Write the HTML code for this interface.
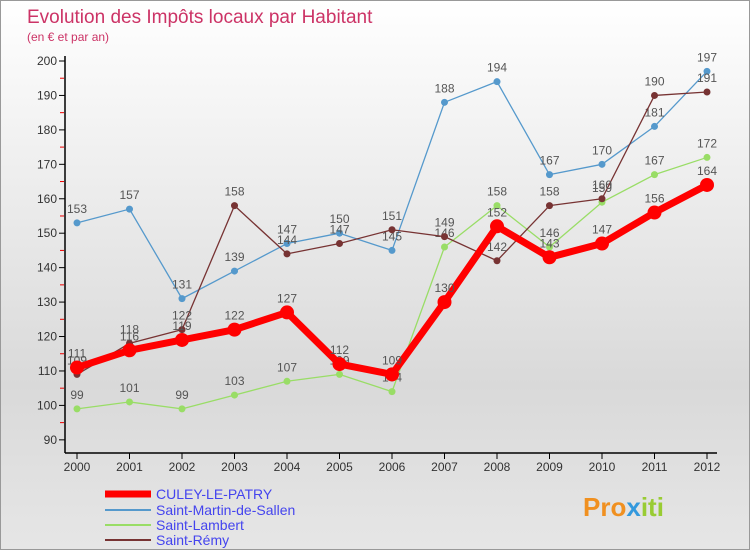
<!DOCTYPE html>
<html><head><meta charset="utf-8"><style>
body{margin:0;width:750px;height:550px;overflow:hidden;font-family:"Liberation Sans",sans-serif}
#c{position:absolute;left:0;top:0;width:748px;height:548px;border:1px solid #999;background:linear-gradient(#ffffff,#d9d9d9 70%,#e6e6e6)}
</style></head><body>
<div id="c">
<svg id="s" width="750" height="550" style="position:absolute;left:0;top:0">
<text x="26" y="22" font-size="19" fill="#cc3366">Evolution des Impôts locaux par Habitant</text>
<text x="26" y="40" font-size="12" fill="#cc3366">(en € et par an)</text>
<g id="axes"></g><g id="series"></g>
<g>
<line x1="104" y1="493" x2="150" y2="493" stroke="#f00" stroke-width="7"/>
<text x="155" y="498" font-size="14" fill="#4444ee">CULEY-LE-PATRY</text>
<line x1="104" y1="509" x2="150" y2="509" stroke="#5599cc" stroke-width="2"/>
<text x="155" y="514" font-size="14" fill="#4444ee">Saint-Martin-de-Sallen</text>
<line x1="104" y1="524" x2="150" y2="524" stroke="#99dd66" stroke-width="2"/>
<text x="155" y="529" font-size="14" fill="#4444ee">Saint-Lambert</text>
<line x1="104" y1="539" x2="150" y2="539" stroke="#773333" stroke-width="2"/>
<text x="155" y="544" font-size="14" fill="#4444ee">Saint-Rémy</text>
</g>
<text x="582" y="515" font-size="26" font-weight="bold" fill="#f09020">Pro<tspan fill="#3399dd">x</tspan><tspan fill="#99cc33">iti</tspan></text>
</svg></div>
<script>
const years=[2000,2001,2002,2003,2004,2005,2006,2007,2008,2009,2010,2011,2012];
const yTicks=[90,100,110,120,130,140,150,160,170,180,190,200];
const culey=[111,116,119,122,127,112,109,130,152,143,147,156,164];
const martin=[153,157,131,139,147,150,145,188,194,167,170,181,197];
const lambert=[99,101,99,103,107,109,104,146,158,146,159,167,172];
const remy=[109,118,122,158,144,147,151,149,142,158,160,190,191];
const NS="http://www.w3.org/2000/svg";
const X=i=>76+i*52.5, Y=v=>60+(200-v)*3.444;
function mk(t,a,p){const e=document.createElementNS(NS,t);for(const k in a)e.setAttribute(k,a[k]);p.appendChild(e);return e;}
const ax=document.getElementById('axes');
let l=mk('line',{x1:64,y1:55,x2:64,y2:452,stroke:'#000','stroke-width':1.5},ax);


l=mk('line',{x1:64,y1:452,x2:716,y2:452,stroke:'#000','stroke-width':1.5},ax);


yTicks.forEach(v=>{
 mk('line',{x1:58,y1:Y(v),x2:64,y2:Y(v),stroke:'#000'},ax);
 if(v<200)mk('line',{x1:59,y1:Y(v+5),x2:63,y2:Y(v+5),stroke:'#e00'},ax);
 const t=mk('text',{x:56,y:Y(v)+4,'font-size':12,'text-anchor':'end',fill:'#333'},ax);t.textContent=v;
 
 
});
years.forEach((y,i)=>{
 mk('line',{x1:X(i),y1:452,x2:X(i),y2:458,stroke:'#000'},ax);
 const t=mk('text',{x:X(i),y:470,'font-size':12,'text-anchor':'middle',fill:'#333'},ax);t.textContent=y;
 
 
});
const sg=document.getElementById('series');
function series(d,c,w,r,name){
 const g=mk('g',{},sg);
 
 
 mk('polyline',{points:d.map((v,i)=>X(i)+','+Y(v)).join(' '),fill:'none',stroke:c,'stroke-width':w,'stroke-linejoin':'round'},g);
 d.forEach((v,i)=>{
  const p=mk('circle',{cx:X(i),cy:Y(v),r:r,fill:c},g);
  
  
  const t=mk('text',{x:X(i),y:Y(v)-10,'font-size':12,'text-anchor':'middle',fill:'#555'},g);t.textContent=v;
 });
}
series(martin,'#5599cc',1.3,3.5,'saint-martin');
series(lambert,'#99dd66',1.3,3.5,'saint-lambert');
series(remy,'#773333',1.3,3.5,'saint-remy');
series(culey,'#ff0000',7,7,'culey');
</script>
</body></html>
